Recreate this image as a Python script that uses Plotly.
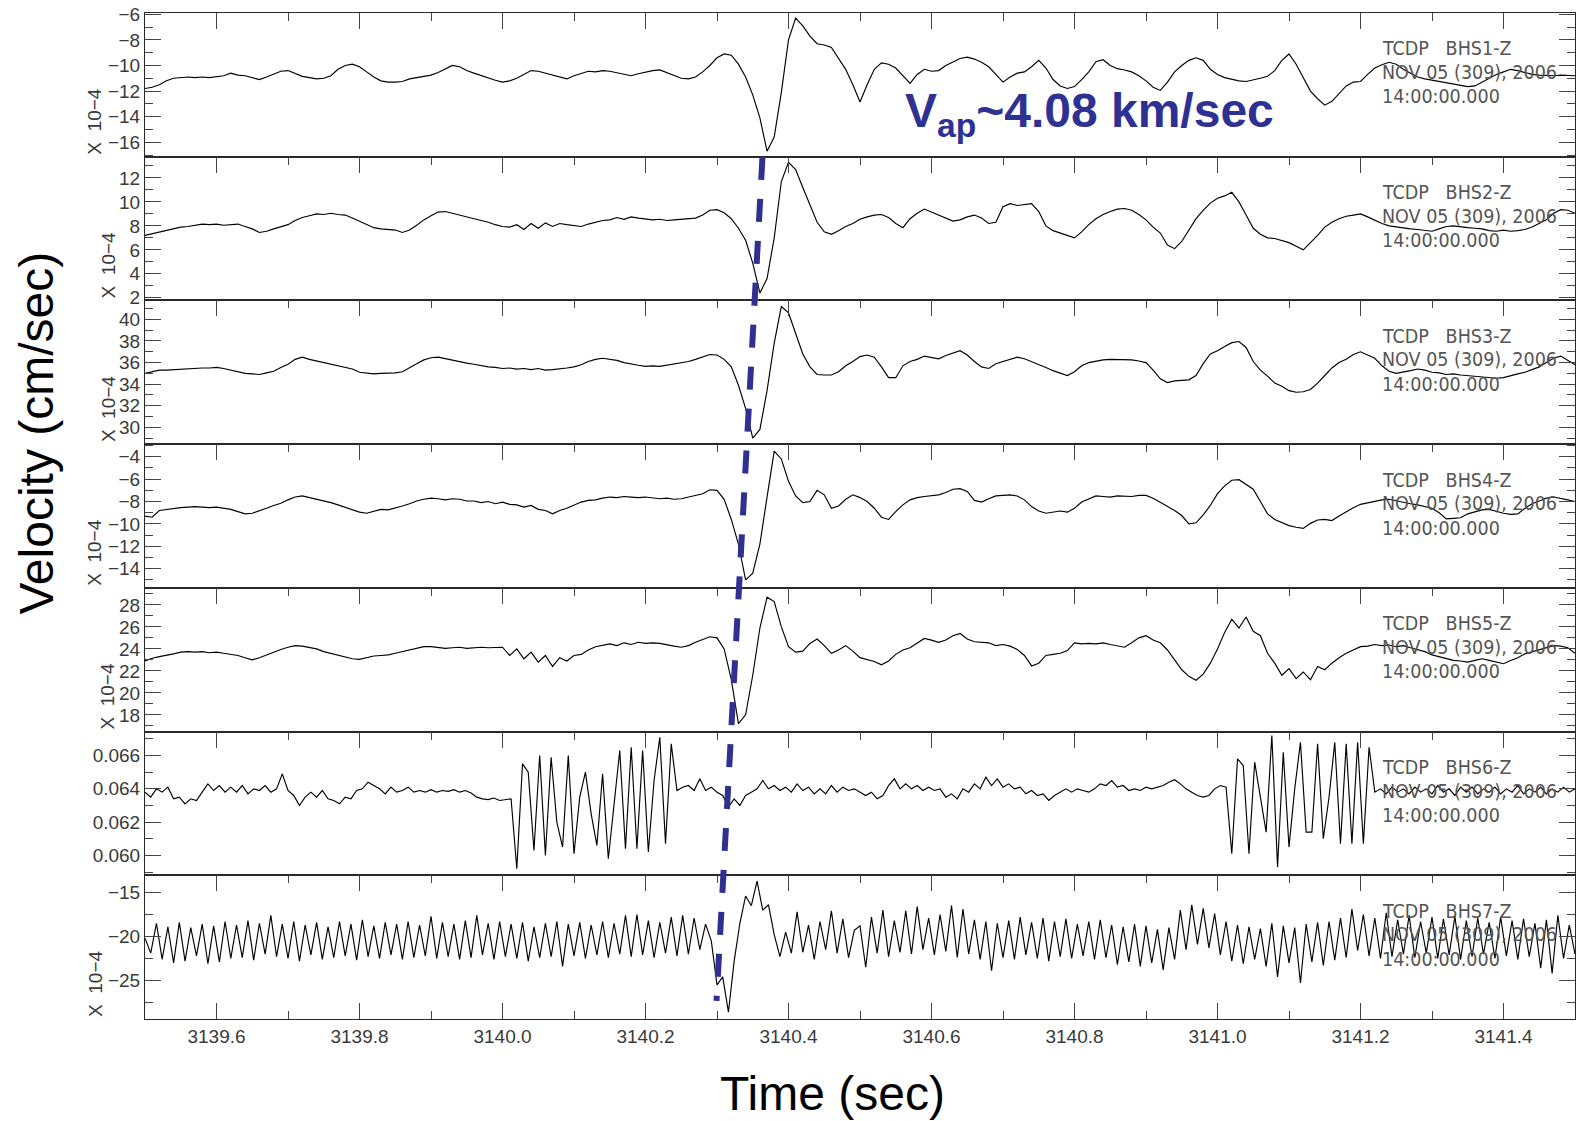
import numpy as np
import plotly.graph_objects as go
from plotly.subplots import make_subplots

# ---------------------------------------------------------------------------
# Vertical-component velocity records, TCDP borehole array BHS1..BHS7
# Broadband-like channels sampled every 0.01 s, the two noisy channels every 0.008 s
# ---------------------------------------------------------------------------
T_START = 3139.5
t_lo = T_START + 0.01 * np.arange(201)
t_hi = T_START + 0.008 * np.arange(251)

stations = ["BHS1-Z", "BHS2-Z", "BHS3-Z", "BHS4-Z", "BHS5-Z", "BHS6-Z", "BHS7-Z"]
network = "TCDP"
date_text = "NOV 05 (309), 2006"
time_text = "14:00:00.000"

# velocity, x 10^-4 cm/sec
bhs1 = [
    -11.8, -11.7, -11.5, -11.2, -11.0, -10.95, -10.9, -10.95, -10.9, -10.95,
    -10.85, -10.8, -10.6, -10.75, -10.8, -10.95, -11.1, -10.9, -10.7, -10.45,
    -10.4, -10.6, -10.85, -10.95, -11.05, -11.0, -10.8, -10.3, -10.0, -9.9,
    -10.1, -10.5, -10.9, -11.2, -11.3, -11.3, -11.25, -11.05, -10.95, -10.85,
    -10.75, -10.55, -10.3, -10.0, -10.1, -10.4, -10.6, -10.8, -11.0, -11.15,
    -11.3, -11.2, -11.0, -10.7, -10.4, -10.45, -10.6, -10.75, -10.95, -11.05,
    -10.8, -10.6, -10.45, -10.5, -10.4, -10.45, -10.55, -10.7, -10.8, -10.65,
    -10.5, -10.4, -10.35, -10.55, -10.8, -11.0, -11.05, -10.9, -10.5, -10.0,
    -9.4, -9.1, -9.2, -9.9, -10.9, -12.3, -14.1, -16.7, -15.6, -12.1,
    -8.0, -6.3, -6.9, -7.7, -8.3, -8.4, -8.6, -9.4, -10.3, -11.5,
    -12.85, -11.5, -10.3, -9.8, -9.9, -10.2, -10.8, -11.4, -10.7, -10.3,
    -10.45, -10.4, -10.0, -9.7, -9.45, -9.35, -9.5, -9.75, -10.1, -10.7,
    -11.3, -10.9, -10.6, -10.5, -10.1, -9.6, -10.2, -11.1, -11.6, -11.8,
    -11.65, -11.1, -10.5, -9.7, -9.55, -10.0, -10.25, -10.35, -10.5, -10.8,
    -11.2, -11.7, -11.95, -11.3, -10.5, -10.0, -9.6, -9.4, -9.6, -10.3,
    -10.7, -10.95, -11.1, -11.2, -11.25, -11.15, -11.0, -10.85, -10.4, -9.6,
    -9.1, -9.9, -11.0, -12.0, -12.6, -13.1, -12.8, -12.2, -11.6, -11.3,
    -11.25, -10.7, -10.2, -9.95, -9.75, -9.9, -10.3, -10.6, -10.9, -11.05,
    -11.15, -11.3, -11.35, -11.5, -11.6, -11.65, -11.6, -11.3, -11.0, -10.7,
    -10.5, -10.3, -10.4, -10.55, -10.7, -10.75, -10.8, -10.8, -10.75, -10.8, -10.8,
]

bhs2 = [
    7.2, 7.35, 7.5, 7.65, 7.75, 7.9, 7.95, 8.05, 8.15, 8.1,
    8.15, 8.05, 8.1, 8.15, 7.95, 7.75, 7.45, 7.55, 7.75, 7.9,
    8.1, 8.45, 8.7, 8.85, 9.0, 8.95, 9.05, 8.95, 8.9, 8.65,
    8.4, 8.1, 7.85, 7.75, 7.7, 7.65, 7.45, 7.65, 8.05, 8.5,
    8.85, 9.15, 9.2, 9.05, 8.9, 8.8, 8.6, 8.45, 8.3, 8.1,
    7.95, 7.9, 8.1, 7.7, 8.2, 7.8, 8.25, 7.95, 8.2, 8.1,
    8.0, 7.95, 8.15, 8.3, 8.45, 8.5, 8.7, 8.55, 8.75, 8.65,
    8.6, 8.5, 8.55, 8.45, 8.5, 8.55, 8.6, 8.65, 8.9, 9.3,
    9.35, 9.1, 8.6, 7.8, 6.8, 4.9, 2.4, 3.6, 7.0, 11.7,
    13.3, 12.7, 11.2, 9.8, 8.3, 7.5, 7.3, 7.6, 7.95, 8.2,
    8.55, 8.75, 8.9, 8.95, 8.7, 8.2, 7.85, 8.6, 9.05, 9.4,
    9.15, 8.9, 8.65, 8.4, 8.5, 8.75, 8.9, 8.65, 8.2, 8.3,
    9.6, 9.85, 9.7, 9.8, 9.85, 9.2, 8.0, 7.6, 7.4, 7.2,
    7.0, 7.5, 8.1, 8.6, 8.95, 9.2, 9.4, 9.45, 9.3, 8.95,
    8.5, 7.9, 7.4, 6.4, 6.1, 6.7, 7.7, 8.6, 9.3, 9.9,
    10.3, 10.5, 10.8, 10.0, 8.9, 7.8, 7.3, 7.0, 6.95, 6.8,
    6.6, 6.3, 6.0, 6.6, 7.2, 7.9, 8.3, 8.6, 8.8, 8.9,
    9.0, 8.75, 8.45, 8.2, 8.0, 7.9, 7.8, 7.75, 7.7, 7.6,
    7.55, 7.75, 7.95, 8.0, 7.9, 7.85, 7.8, 7.75, 7.6, 7.55,
    7.65, 7.55, 7.6, 7.7, 7.9, 8.2, 8.5, 9.05, 9.35, 9.3, 9.05,
]

bhs3 = [
    35.0, 35.15, 35.3, 35.3, 35.35, 35.35, 35.4, 35.45, 35.5, 35.5,
    35.55, 35.45, 35.3, 35.15, 35.0, 34.95, 34.9, 35.05, 35.2, 35.55,
    35.85, 36.3, 36.5, 36.3, 36.15, 36.0, 35.85, 35.75, 35.55, 35.4,
    35.1, 35.0, 34.95, 35.0, 35.0, 35.05, 35.15, 35.55, 35.9, 36.25,
    36.45, 36.5, 36.35, 36.2, 36.1, 35.95, 35.85, 35.7, 35.6, 35.55,
    35.45, 35.5, 35.4, 35.45, 35.35, 35.45, 35.3, 35.35, 35.4, 35.5,
    35.6, 35.8, 36.1, 36.3, 36.4, 36.3, 36.2, 36.0, 35.85, 35.75,
    35.65, 35.7, 35.65, 35.75, 35.85, 35.95, 36.1, 36.3, 36.5, 36.75,
    36.7, 36.3, 35.6, 33.9, 31.75, 29.0, 29.8, 33.4, 37.8, 41.2,
    40.6, 38.6, 36.8, 35.6, 34.9, 34.85, 34.85, 35.15, 35.7, 36.1,
    36.55, 36.7, 36.5, 35.6, 34.6, 34.6, 35.7, 36.1, 36.3, 36.6,
    36.5, 36.35, 36.65, 36.9, 37.1, 36.7, 36.1, 35.6, 35.45, 35.9,
    36.1, 36.3, 36.5, 36.35, 36.1, 35.85, 35.55, 35.25, 35.0, 34.8,
    35.15, 35.7, 36.0, 36.15, 36.25, 36.3, 36.3, 36.25, 36.25, 36.15,
    36.0, 35.3, 34.5, 34.15, 34.3, 34.35, 34.4, 34.8, 35.9, 36.8,
    37.1, 37.5, 37.85, 37.95, 37.4, 36.1, 35.3, 34.75, 34.1, 33.8,
    33.4, 33.25, 33.3, 33.5, 34.1, 34.8, 35.5, 36.0, 36.3, 36.75,
    37.0, 36.7, 36.4, 35.7, 35.2, 35.0, 35.1, 35.25, 35.4, 35.3,
    35.1, 35.05, 34.9, 34.95, 34.85, 34.8, 34.7, 34.65, 34.6, 34.55,
    34.6, 34.8, 34.95, 35.1, 35.35, 35.6, 36.0, 36.4, 36.6, 36.2, 35.8,
]

bhs4 = [
    -9.3, -9.4, -8.8, -8.7, -8.6, -8.55, -8.5, -8.45, -8.5, -8.55,
    -8.5, -8.6, -8.7, -8.9, -9.1, -9.05, -8.85, -8.6, -8.35, -8.15,
    -7.85, -7.6, -7.5, -7.65, -7.75, -7.95, -8.1, -8.3, -8.5, -8.75,
    -8.95, -9.05, -8.85, -8.7, -8.75, -8.6, -8.4, -8.2, -7.95, -7.8,
    -7.7, -7.75, -7.85, -7.75, -7.8, -7.95, -7.95, -8.1, -8.0, -8.2,
    -8.05, -8.25, -8.3, -8.5, -8.35, -8.7, -8.8, -9.1, -8.8, -8.6,
    -8.3, -8.05, -7.9, -7.85, -7.7, -7.6, -7.65, -7.55, -7.6, -7.65,
    -7.6, -7.7, -7.75, -7.7, -7.8, -7.75, -7.6, -7.5, -7.3, -6.95,
    -7.0, -7.8, -9.6, -11.8, -15.0, -14.4, -11.8, -7.6, -3.5, -4.2,
    -6.2, -7.5, -8.1, -8.0, -7.0, -7.4, -8.6, -8.4, -7.8, -7.4,
    -7.65, -8.0, -8.6, -9.4, -9.6, -8.9, -8.3, -7.85, -7.65, -7.55,
    -7.5, -7.4, -7.2, -6.9, -6.85, -7.1, -7.9, -8.05, -7.75, -7.5,
    -7.45, -7.4, -7.5, -7.85, -8.45, -8.85, -9.05, -8.95, -8.85, -8.95,
    -8.6, -8.05, -7.75, -7.5, -7.55, -7.6, -7.5, -7.5, -7.55, -7.45,
    -7.45, -7.7, -8.05, -8.45, -8.8, -9.25, -10.0, -9.9, -9.2, -8.35,
    -7.3, -6.6, -6.1, -6.05, -6.5, -6.9, -8.0, -9.1, -9.6, -9.9,
    -10.15, -10.3, -10.4, -9.95, -9.65, -9.6, -9.7, -9.3, -8.9, -8.55,
    -8.25, -8.1, -7.95, -7.85, -7.8, -7.95, -8.05, -8.2, -8.3, -8.45,
    -8.6, -9.0, -9.55, -9.5, -9.45, -9.1, -8.9, -8.75, -8.7, -8.9,
    -9.05, -9.15, -9.1, -8.6, -8.2, -7.95, -7.7, -7.6, -7.7, -7.85, -8.0,
]

bhs5 = [
    22.9, 23.15, 23.3, 23.4, 23.55, 23.7, 23.75, 23.7, 23.75, 23.65,
    23.7, 23.6, 23.5, 23.4, 23.2, 23.0, 23.2, 23.45, 23.75, 23.95,
    24.15, 24.3, 24.25, 24.15, 24.0, 23.75, 23.6, 23.4, 23.25, 23.1,
    23.05, 23.2, 23.35, 23.4, 23.45, 23.6, 23.75, 23.9, 24.1, 24.2,
    24.2, 24.1, 24.05, 24.1, 24.15, 24.05, 24.1, 24.15, 24.1, 24.1,
    24.15, 23.4, 24.0, 23.1, 23.7, 22.8, 23.4, 22.4, 23.2, 22.9,
    23.4, 23.5, 23.9, 24.2, 24.3, 24.45, 24.3, 24.55, 24.4, 24.6,
    24.5, 24.55, 24.5, 24.35, 24.25, 24.15, 24.3, 24.6, 24.85, 25.1,
    25.0, 24.0, 21.2, 17.2, 18.0, 21.6, 25.9, 28.7, 28.3, 26.0,
    24.2, 23.7, 23.8, 24.5, 24.9, 24.3, 23.6, 23.9, 24.3, 23.8,
    23.2, 23.0, 22.85, 22.55, 22.9, 23.5, 23.9, 24.1, 24.55, 24.95,
    24.8, 24.6, 24.8, 25.2, 25.4, 24.9, 24.65, 24.6, 24.55, 24.3,
    24.4, 24.25, 23.95, 23.4, 22.45, 22.7, 23.4, 23.5, 23.6, 23.85,
    24.55, 24.45, 24.5, 24.45, 24.55, 24.4, 24.25, 24.15, 24.55, 25.0,
    25.2, 24.8, 24.55, 23.9, 23.0, 22.1, 21.5, 21.15, 21.7, 22.7,
    24.0, 25.5, 26.7, 25.9, 26.9, 25.6, 25.2, 23.6, 22.7, 21.6,
    22.2, 21.3, 21.9, 21.2, 22.4, 22.1, 22.7, 23.2, 23.6, 23.9,
    24.2, 24.25, 24.4, 24.3, 24.35, 24.2, 24.3, 24.1, 23.95, 23.75,
    23.45, 23.3, 23.1, 22.95, 22.9, 22.8, 22.95, 23.1, 22.95, 22.8,
    22.65, 22.95, 23.2, 23.55, 23.75, 23.95, 24.15, 24.3, 24.25, 24.1, 23.6,
]

# velocity, x 10^-3 cm/sec
bhs6 = [
    63.8, 63.5, 64.0, 63.8, 64.1, 63.4, 63.5, 63.1, 63.4, 63.3,
    63.8, 64.3, 63.9, 64.2, 63.8, 64.1, 63.8, 64.2, 63.7, 64.0,
    63.9, 64.2, 63.8, 64.0, 64.9, 63.9, 63.6, 63.0, 63.5, 63.8,
    63.5, 63.9, 63.4, 63.3, 63.1, 63.5, 63.4, 63.9, 64.0, 64.4,
    64.2, 64.0, 63.7, 64.1, 63.8, 63.9, 64.1, 63.8, 63.9, 63.8,
    63.95, 63.8, 63.9, 63.85, 63.95, 63.8, 63.9, 63.75, 63.5, 63.4,
    63.35, 63.45, 63.3, 63.35, 63.4, 59.2, 65.5, 65.0, 60.3, 66.0,
    60.0, 65.9, 62.0, 60.5, 66.0, 60.1, 63.5, 65.0, 62.5, 60.6,
    64.9, 59.8, 63.0, 66.3, 60.4, 66.5, 60.4, 66.3, 60.2, 64.5,
    67.1, 60.7, 66.7, 63.9, 64.1, 64.2, 63.9, 64.6, 63.9, 64.1,
    63.8, 63.6, 62.9, 63.4, 63.0, 63.6, 63.8, 64.0, 64.5, 64.0,
    64.2, 63.9, 64.1, 63.8, 64.3, 63.9, 64.1, 63.7, 64.0, 63.7,
    64.2, 63.8, 64.1, 63.9, 64.0,
    63.8, 63.6, 63.8, 63.4, 63.6, 64.2, 64.6, 64.0, 64.3, 64.0,
    64.2, 63.9, 64.1, 63.9, 64.0, 63.5, 63.7, 63.4, 64.0, 63.8,
    64.3, 64.0, 64.7, 64.2, 64.6, 64.1, 64.3, 64.0, 64.1, 63.7,
    63.9, 63.6, 63.7, 63.3, 63.6, 63.8, 64.0, 63.8, 64.0, 63.9,
    63.8, 64.0, 64.3, 64.2, 64.5, 64.1, 64.2, 63.9, 64.0, 63.9,
    64.1, 64.0, 64.1, 64.2, 64.4, 64.55, 64.3, 64.0, 63.8, 63.6,
    63.5, 63.6, 64.0, 64.2, 64.1, 60.1, 65.8, 65.4, 60.1, 65.6,
    63.5, 61.4, 67.2, 59.3, 66.2, 60.5, 64.0, 66.8, 61.4, 61.4,
    66.7, 61.0, 63.5, 66.8, 60.7, 66.7, 60.7, 66.8, 60.7, 66.5,
    63.8, 64.0, 63.7, 64.1, 63.8, 64.0, 63.7, 64.1, 63.8, 64.0,
    63.7, 64.2, 63.8, 64.0, 63.6, 64.1, 63.8, 64.1, 63.7, 64.0,
    63.8, 64.1, 63.7, 64.0, 63.8, 64.2, 63.7, 64.0, 63.8, 64.1,
    63.7, 64.0, 63.8, 64.1, 63.8, 64.0,
]

# velocity, x 10^-4 cm/sec
bhs7 = [
    -20.2, -21.9, -18.5, -22.6, -18.9, -23.0, -18.4, -22.8, -19.0, -22.2,
    -18.6, -23.1, -18.8, -22.9, -18.3, -22.5, -18.7, -22.4, -18.2, -22.7,
    -18.5, -22.0, -17.6, -22.3, -18.6, -22.5, -18.3, -22.8, -18.7, -22.1,
    -18.4, -22.6, -18.9, -22.4, -18.3, -22.2, -18.6, -22.7, -18.1, -22.3,
    -18.8, -22.5, -18.4, -22.1, -18.6, -22.6, -18.3, -22.4, -18.7, -22.2,
    -17.7, -22.5, -18.4, -22.3, -18.6, -22.6, -18.2, -22.4, -17.6, -22.1,
    -18.5, -22.6, -18.3, -22.3, -18.6, -22.5, -18.4, -22.8, -18.9, -22.4,
    -18.5, -22.3, -18.3, -23.4, -18.6, -22.2, -18.4, -22.5, -18.7, -22.1,
    -18.3, -22.4, -18.5, -22.0, -17.6, -22.3, -17.5, -22.1, -18.2, -22.4,
    -18.4, -21.9, -17.8, -22.2, -17.6, -22.0, -17.9, -21.5, -18.6, -20.5,
    -25.5, -24.6, -28.6, -22.8, -18.5, -15.4, -16.5, -13.7, -17.0, -16.4,
    -19.8, -22.3, -19.5, -21.9, -17.2, -21.8, -18.7, -22.6, -18.3, -21.5,
    -17.1, -21.9, -18.0, -22.4, -19.3,
    -18.8, -23.5, -17.8, -21.9, -17.0, -22.3, -18.2, -21.8, -17.1, -22.0,
    -16.6, -21.5, -17.9, -22.1, -17.5, -21.7, -16.5, -22.4, -16.9, -22.0,
    -18.1, -22.6, -18.3, -23.9, -18.5, -22.4, -18.2, -22.6, -17.8, -22.1,
    -18.4, -22.5, -17.9, -22.8, -18.3, -22.3, -18.0, -22.5, -18.6, -22.2,
    -18.3, -22.6, -18.1, -22.4, -18.7, -23.2, -18.9, -22.9, -18.6, -23.4,
    -18.8, -23.0, -19.2, -23.8, -19.0, -22.6, -17.0, -21.5, -16.4, -20.9,
    -16.8, -21.3, -17.4, -22.1, -18.3, -22.8, -18.7, -23.1, -18.9, -22.6,
    -19.1, -23.4, -18.5, -24.6, -18.8, -23.0, -19.0, -25.3, -18.6, -22.9,
    -18.4, -23.3, -18.3, -22.7, -17.9, -22.4, -16.9, -21.6, -17.5, -22.2,
    -17.9, -22.5, -17.3, -22.3, -18.1, -22.0, -17.6, -22.4, -18.3, -21.9,
    -17.8, -22.5, -18.0, -22.1, -17.7, -22.6, -18.2, -22.3, -17.9, -22.0,
    -18.4, -22.5, -17.8, -22.2, -18.2, -22.6, -18.0, -22.3, -18.5, -23.6,
    -18.1, -24.2, -17.6, -22.5, -18.7, -22.0,
]

traces = [
    (t_lo, np.array(bhs1)),
    (t_lo, np.array(bhs2)),
    (t_lo, np.array(bhs3)),
    (t_lo, np.array(bhs4)),
    (t_lo, np.array(bhs5)),
    (t_hi, np.array(bhs6) * 1e-3),
    (t_hi, np.array(bhs7)),
]

# per-panel amplitude axes
y_ranges = [(-17.13, -5.9), (1.78, 13.77), (28.44, 41.76), (-15.71, -2.875),
            (16.48, 29.55), (0.058805, 0.067441), (-29.386, -13.045)]
y_dtick = [2, 2, 2, 2, 2, 0.002, 5]
y_tick0 = [0, 0, 0, 0, 0, 0.060, -15]
y_minor = [1, 1, 1, 1, 1, 0.001, 2.5]
scaled_panel = [True, True, True, True, True, False, True]
scale_label_x = [-0.035, -0.0259, -0.0259, -0.035, -0.0259, None, -0.035]

TICK_FONT = dict(family="Liberation Sans, Arial, sans-serif", size=19, color="#3a3a3a")
INFO_FONT = dict(family="DejaVu Sans Condensed, DejaVu Sans, sans-serif",
                 size=19.5, color="#555555")
FRAME = "#2a2a2a"
TICKC = "#444444"
PICK_BLUE = "#2e3192"

fig = make_subplots(rows=7, cols=1, shared_xaxes=True, vertical_spacing=0)

for i, (t, v) in enumerate(traces):
    fig.add_trace(
        go.Scatter(x=t, y=v, mode="lines", line=dict(color="black", width=1.15),
                   hoverinfo="skip", showlegend=False),
        row=i + 1, col=1,
    )

for i in range(7):
    r = i + 1
    fig.update_yaxes(
        row=r, col=1, range=list(y_ranges[i]), tick0=y_tick0[i], dtick=y_dtick[i],
        tickformat=".3f" if not scaled_panel[i] else None,
        ticks="inside", ticklen=16, tickwidth=1.4, tickcolor=TICKC,
        showline=True, linecolor=FRAME, linewidth=1, mirror="ticks",
        showgrid=False, zeroline=False, tickfont=TICK_FONT,
        minor=dict(dtick=y_minor[i], ticks="inside", ticklen=8, tickwidth=1.2,
                   tickcolor=TICKC, showgrid=False),
    )
    common_x = dict(
        range=[3139.5, 3141.5], tick0=3139.6, dtick=0.2, tickformat=".1f",
        ticks="inside", ticklen=16, tickwidth=1.4, tickcolor=TICKC,
        showline=True, linecolor=FRAME, linewidth=1,
        showgrid=False, zeroline=False, tickfont=TICK_FONT,
        minor=dict(dtick=0.1, ticks="inside", ticklen=8, tickwidth=1.2,
                   tickcolor=TICKC, showgrid=False),
    )
    if r < 7:
        fig.update_xaxes(row=r, col=1, side="top", mirror=True,
                         showticklabels=False, **common_x)
    else:
        fig.update_xaxes(row=r, col=1, side="bottom", mirror="ticks",
                         showticklabels=True, **common_x)

annotations = []
info_x = 3141.227
for i, sta in enumerate(stations):
    yref = "y domain" if i == 0 else f"y{i + 1} domain"
    for text, yy in ((f"{network}\u00a0\u00a0\u00a0{sta}", 0.750), (date_text, 0.586), (time_text, 0.416)):
        annotations.append(dict(
            x=info_x, xref="x", y=yy, yref=yref, text=text, showarrow=False,
            xanchor="left", yanchor="middle", font=INFO_FONT,
        ))
    if scaled_panel[i]:
        annotations.append(dict(
            x=scale_label_x[i], xref="paper", y=0, yref=yref, text="X\u00a0\u00a010\u22124",
            showarrow=False, textangle=-90, xanchor="center", yanchor="bottom",
            font=TICK_FONT,
        ))

annotations.append(dict(
    x=-0.0762, xref="paper", y=0.582, yref="paper", text="Velocity (cm/sec)",
    showarrow=False, textangle=-90, xanchor="center", yanchor="middle",
    font=dict(family="Liberation Sans, Arial, sans-serif", size=48, color="black"),
))
annotations.append(dict(
    x=0.481, xref="paper", y=-0.0743, yref="paper", text="Time (sec)",
    showarrow=False, xanchor="center", yanchor="middle",
    font=dict(family="Liberation Sans, Arial, sans-serif", size=48, color="black"),
))
annotations.append(dict(
    x=3140.560, xref="x", y=0.8994, yref="paper",
    text="<b>V<sub>ap</sub>~4.08 km/sec</b>",
    showarrow=False, xanchor="left", yanchor="middle",
    font=dict(family="Liberation Sans, Arial, sans-serif", size=48, color=PICK_BLUE),
))

# apparent-velocity moveout line across the array
fig.add_shape(
    type="line", xref="x", yref="paper",
    x0=3140.3636, y0=0.8569, x1=3140.2993, y1=0.0181,
    line=dict(color=PICK_BLUE, width=6, dash="23px,19px"), layer="above",
)

fig.update_layout(
    width=1577, height=1121,
    margin=dict(l=145, r=2, t=12.7, b=101.7),
    paper_bgcolor="white", plot_bgcolor="white",
    showlegend=False, annotations=annotations,
    font=dict(family="Liberation Sans, Arial, sans-serif"),
)

fig.write_html("out.html")
